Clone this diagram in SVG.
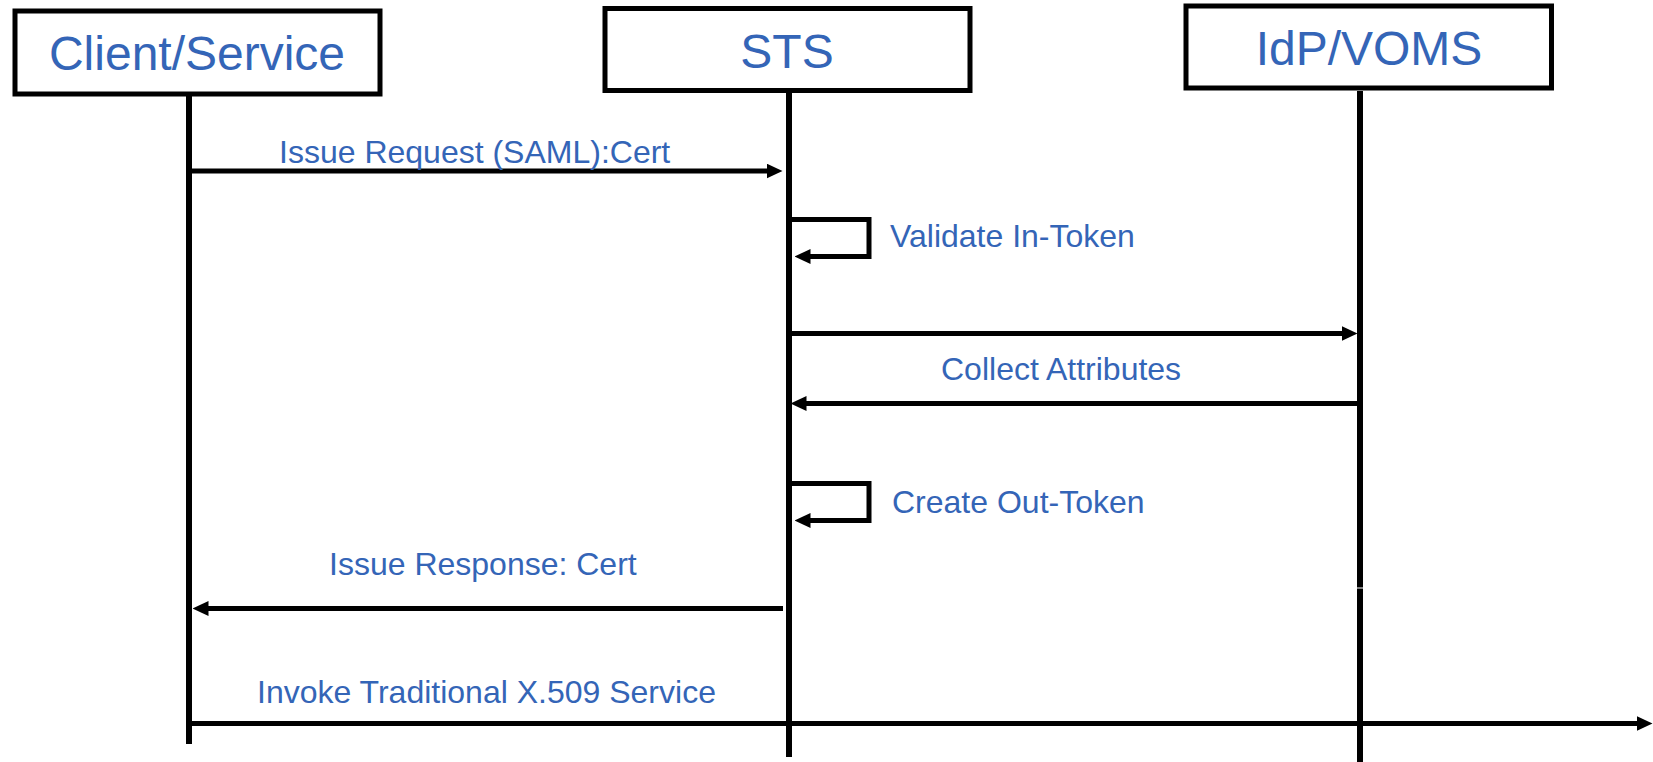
<svg xmlns="http://www.w3.org/2000/svg" width="1653" height="762" viewBox="0 0 1653 762">
<style>
.box{fill:#fff;stroke:#000;stroke-width:5}
.title{font-family:"Liberation Sans",Arial,sans-serif;font-size:48px;fill:#3465B7;text-anchor:middle}
.lbl{font-family:"Liberation Sans",Arial,sans-serif;font-size:32px;fill:#3465B7}
.life{stroke:#000;stroke-width:6;fill:none}
.msg{stroke:#000;stroke-width:5;fill:none}
</style>
<defs>
<marker id="arr" viewBox="0 0 16 15" refX="0.5" refY="7.5" markerWidth="16" markerHeight="15" markerUnits="userSpaceOnUse" orient="auto">
<path d="M0,0 L16,7.5 L0,15 z" fill="#000"/>
</marker>
</defs>
<g id="lifelines">
<line class="life" x1="189" y1="96" x2="189" y2="744"/>
<line class="life" x1="789" y1="93" x2="789" y2="757"/>
<line class="life" x1="1360" y1="91" x2="1360" y2="587.5"/>
<line class="life" x1="1360" y1="588.5" x2="1360" y2="762"/>
</g>
<g id="client">
<rect class="box" x="15" y="11" width="365" height="83"/>
<text class="title" x="197" y="70">Client/Service</text>
</g>
<g id="sts">
<rect class="box" x="605" y="8.5" width="365" height="82"/>
<text class="title" x="787" y="68">STS</text>
</g>
<g id="idp">
<rect class="box" x="1186" y="6" width="365.5" height="82"/>
<text class="title" x="1369" y="65">IdP/VOMS</text>
</g>
<g id="connectors">
<line class="msg" x1="189" y1="171" x2="767" y2="171" marker-end="url(#arr)"/>
<path class="msg" d="M791,219.5 H869 V256.5 H810" marker-end="url(#arr)"/>
<line class="msg" x1="791" y1="333.5" x2="1342" y2="333.5" marker-end="url(#arr)"/>
<line class="msg" x1="1358" y1="403.5" x2="806" y2="403.5" marker-end="url(#arr)"/>
<path class="msg" d="M791,483.5 H869 V520.5 H810" marker-end="url(#arr)"/>
<line class="msg" x1="783" y1="608.5" x2="208" y2="608.5" marker-end="url(#arr)"/>
<line class="msg" x1="186" y1="723.5" x2="1637" y2="723.5" marker-end="url(#arr)"/>
</g>
<g id="labels">
<text class="lbl" x="279" y="163">Issue Request (SAML):Cert</text>
<text class="lbl" x="890" y="247">Validate In-Token</text>
<text class="lbl" x="941" y="380">Collect Attributes</text>
<text class="lbl" x="892" y="513">Create Out-Token</text>
<text class="lbl" x="329" y="575">Issue Response: Cert</text>
<text class="lbl" x="257" y="703">Invoke Traditional X.509 Service</text>
</g>
</svg>
